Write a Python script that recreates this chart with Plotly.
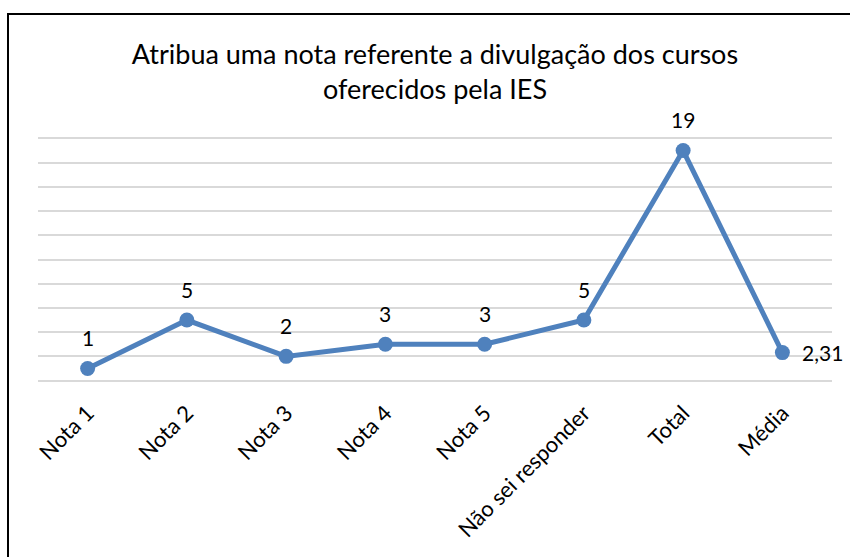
import plotly.graph_objects as go

categories = ["Nota 1", "Nota 2", "Nota 3", "Nota 4", "Nota 5", "Não sei responder", "Total", "Média"]
values = [1, 5, 2, 3, 3, 5, 19, 2.31]
labels = ["1", "5", "2", "3", "3", "5", "19", "2,31"]
title_text = "Atribua uma nota referente a divulgação dos cursos<br>oferecidos pela IES"

FONT = "Lato"
color = "#4F81BD"

fig = go.Figure()
fig.add_trace(go.Scatter(
    x=categories, y=values, mode="lines+markers",
    line=dict(color=color, width=5),
    marker=dict(color=color, size=15),
    hoverinfo="skip", showlegend=False,
))

for i, (c, v, t) in enumerate(zip(categories, values, labels)):
    if i == len(categories) - 1:
        fig.add_annotation(x=c, y=v, text=t, showarrow=False, xanchor="left",
                           yanchor="middle", xshift=18,
                           font=dict(family=FONT, size=21, color="#000000"))
    else:
        fig.add_annotation(x=c, y=v, text=t, showarrow=False, xanchor="center",
                           yanchor="middle", yshift=31,
                           font=dict(family=FONT, size=21, color="#000000"))

# plot area: y from 136 to 383 px, range [-0.2, 20.2]
TOP, BOT = 136, 383
H = BOT - TOP

# chart border
fig.add_shape(type="rect", xref="paper", yref="paper",
              x0=(8 - 38) / 794, x1=1.2, y0=-0.9, y1=(BOT - 14) / H,
              line=dict(color="#000000", width=2), fillcolor="rgba(0,0,0,0)", layer="below")

fig.update_layout(
    width=850, height=557,
    margin=dict(l=38, r=18, t=TOP, b=557 - BOT),
    paper_bgcolor="white", plot_bgcolor="white",
    title=dict(text=title_text, x=435 / 850, xanchor="center",
               y=1 - 64 / 557, yanchor="middle", yref="container",
               font=dict(family=FONT, size=27, color="#000000")),
    xaxis=dict(type="category", range=[-0.5, 7.5], showgrid=False, showline=False,
               ticks="", tickangle=-45, zeroline=False, automargin=False,
               ticklabelstandoff=12,
               tickfont=dict(family=FONT, size=22, color="#000000")),
    yaxis=dict(range=[-0.2, 20.2], dtick=2, showgrid=True, gridcolor="#D9D9D9", gridwidth=1.8,
               showticklabels=False, zeroline=False, showline=False, ticks="", automargin=False),
    font=dict(family=FONT),
)

fig.write_html("out.html", config={"displayModeBar": False},
               post_script="document.body.style.margin='0';")
